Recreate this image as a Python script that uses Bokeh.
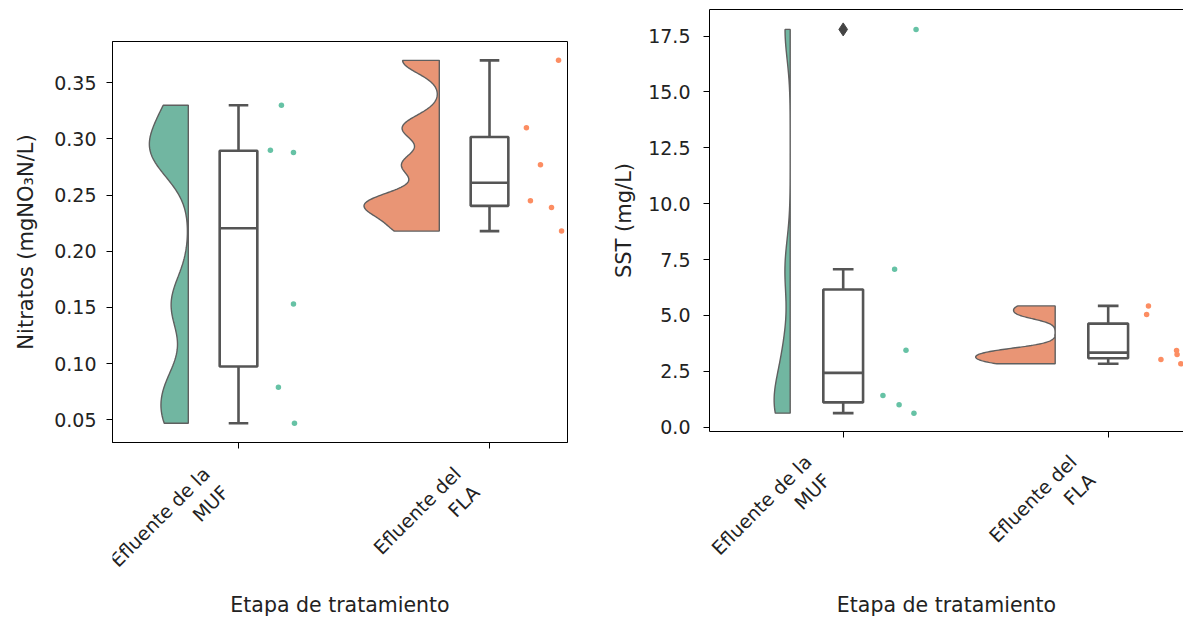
import numpy as np
from bokeh.plotting import figure
from bokeh.layouts import row, column
from bokeh.models import FixedTicker, LinearAxis, Range1d, NumeralTickFormatter, Spacer
from bokeh.core.properties import value
from bokeh.embed import file_html
from bokeh.resources import INLINE

# ---------------- data ----------------
categories = ["Efluente de la\nMUF", "Efluente del\nFLA"]
x_title = "Etapa de tratamiento"

nitratos_muf = [0.330, 0.290, 0.288, 0.153, 0.079, 0.047]
nitratos_fla = [0.370, 0.310, 0.277, 0.245, 0.239, 0.218]
nitratos_jitter_muf = [0.171, 0.127, 0.219, 0.219, 0.159, 0.223]
nitratos_jitter_fla = [0.275, 0.147, 0.203, 0.163, 0.247, 0.287]

sst_muf = [17.8, 7.07, 3.45, 1.42, 1.01, 0.63]
sst_fla = [5.43, 5.04, 3.03, 3.43, 3.25, 2.84]
sst_jitter_muf = [0.275, 0.194, 0.237, 0.150, 0.211, 0.267]
sst_jitter_fla = [0.152, 0.145, 0.199, 0.258, 0.260, 0.274]

nitratos_ticks = [0.05, 0.10, 0.15, 0.20, 0.25, 0.30, 0.35]
sst_ticks = [0.0, 2.5, 5.0, 7.5, 10.0, 12.5, 15.0, 17.5]

rain_colors = ["#66c2a5", "#fc8d62"]
violin_colors = ["#71b6a1", "#e99575"]

FONT = "DejaVu Sans"
LINE = "#555555"
TXT = "#222222"


def kde(vals, n=200):
    v = np.asarray(vals, dtype=float)
    bw = 0.2 * v.std(ddof=1)
    grid = np.linspace(v.min(), v.max(), n)
    d = np.exp(-0.5 * ((grid[:, None] - v[None, :]) / bw) ** 2).sum(1)
    d /= len(v) * bw * np.sqrt(2 * np.pi)
    return grid, d


def raincloud(p, groups, jitters):
    kdes = [kde(g) for g in groups]
    gmax = max(d.max() for _, d in kdes)
    half_w = 0.30
    for i, (vals, jit) in enumerate(zip(groups, jitters)):
        grid, d = kdes[i]
        edge = i - 0.2
        xs = list(edge - d / gmax * half_w) + [edge, edge]
        ys = list(grid) + [grid[-1], grid[0]]
        p.patch(xs, ys, fill_color=violin_colors[i], line_color="#5f5f5f",
                line_width=1.4)
        v = np.asarray(vals, dtype=float)
        q1, med, q3 = np.percentile(v, [25, 50, 75])
        iqr = q3 - q1
        lo = v[v >= q1 - 1.5 * iqr].min()
        hi = v[v <= q3 + 1.5 * iqr].max()
        bw = 0.075
        cw = 0.039
        p.segment(x0=[i, i], y0=[q3, q1], x1=[i, i], y1=[hi, lo],
                  line_color=LINE, line_width=2.6)
        p.segment(x0=[i - cw, i - cw], y0=[hi, lo], x1=[i + cw, i + cw],
                  y1=[hi, lo], line_color=LINE, line_width=2.6)
        p.quad(left=[i - bw], right=[i + bw], bottom=[q1], top=[q3],
               fill_color="white", line_color=LINE, line_width=2.6)
        p.segment(x0=[i - bw], y0=[med], x1=[i + bw], y1=[med],
                  line_color=LINE, line_width=2.6)
        out = v[(v < q1 - 1.5 * iqr) | (v > q3 + 1.5 * iqr)]
        if len(out):
            p.scatter(x=[i] * len(out), y=list(out), marker="diamond",
                      size=13, fill_color="#444444", line_color="#444444")
        p.scatter(x=list(i + np.asarray(jit)), y=list(v), size=5.5,
                  fill_color=rain_colors[i], line_color=None)


def style_main(p, ticks, fmt, ylabel, label_standoff, title_standoff):
    p.xgrid.visible = False
    p.ygrid.visible = False
    ya = p.left[0]
    ya.ticker = FixedTicker(ticks=ticks)
    ya.formatter = NumeralTickFormatter(format=fmt)
    ya.minor_tick_line_color = None
    ya.major_tick_in = 0
    ya.major_tick_out = 6
    ya.major_tick_line_color = "black"
    ya.axis_line_color = "black"
    ya.major_label_text_font = FONT
    ya.major_label_text_font_size = "19px"
    ya.major_label_text_color = TXT
    ya.major_label_standoff = label_standoff
    ya.axis_label = ylabel
    ya.axis_label_text_font = FONT
    ya.axis_label_text_font_size = "21px"
    ya.axis_label_text_font_style = "normal"
    ya.axis_label_text_color = TXT
    ya.axis_label_standoff = title_standoff
    # bottom axis: line plus category tick marks (drawn as minor ticks, no labels)
    bx = p.below[0]
    bx.ticker = FixedTicker(ticks=[], minor_ticks=[0, 1])
    bx.major_tick_out = 0
    bx.major_tick_in = 0
    bx.major_label_standoff = 0
    bx.minor_tick_in = 0
    bx.minor_tick_out = 6
    bx.minor_tick_line_color = "black"
    bx.axis_line_color = "black"


def label_panel(main, height, border_left, border_right, label_y, title_y, dx):
    """Figure below a panel that carries the category labels and the x title
    (y measured in pixels downwards from this figure's top)."""
    q = figure(width=main.width, height=height, output_backend="svg",
               toolbar_location=None, x_range=main.x_range,
               y_range=Range1d(-height, 0), min_border_left=border_left,
               min_border_right=border_right, min_border_top=0,
               min_border_bottom=0)
    q.axis.visible = False
    q.grid.visible = False
    q.outline_line_color = None
    q.text(x=[0, 1], y=[-label_y, -label_y], text=categories,
           angle=np.pi / 4, text_align="right", text_baseline="top",
           x_offset=dx, text_font=value(FONT), text_font_size=value("19px"),
           text_color=TXT, text_line_height=1.2)
    xr = main.x_range
    q.text(x=[(xr.start + xr.end) / 2], y=[-title_y], text=[x_title],
           text_align="center", text_baseline="middle", text_font=value(FONT),
           text_font_size=value("20.5px"), text_color=TXT)
    return q


# ---------------- left panel ----------------
# frame: x 112..567, y 41..442
p1 = figure(width=600, height=420, output_backend="svg", toolbar_location=None,
            x_range=Range1d(-0.502, 1.3107), y_range=Range1d(0.0298, 0.3868),
            min_border_left=112, min_border_right=33, min_border_top=9,
            min_border_bottom=10)
p1.outline_line_color = "black"
p1.outline_line_width = 1
raincloud(p1, [nitratos_muf, nitratos_fla], [nitratos_jitter_muf, nitratos_jitter_fla])
style_main(p1, nitratos_ticks, "0.00", "Nitratos (mgNO₃N/L)", 10, 13)
p1b = label_panel(p1, 617 - 32 - 420, 112, 33, 10, 152, -40)

# ---------------- right panel ----------------
# frame: x 709..1183(+), y 9..431
p2 = figure(width=583, height=441, output_backend="svg", toolbar_location=None,
            x_range=Range1d(-0.5045, 1.2842), y_range=Range1d(-0.19, 18.69),
            min_border_left=109, min_border_right=0, min_border_top=9,
            min_border_bottom=10)
p2.outline_line_color = None
style_main(p2, sst_ticks, "0.0", "SST (mg/L)", 13, 9)
top_ax = LinearAxis(ticker=FixedTicker(ticks=[]), major_tick_out=0, major_tick_in=0,
                    major_label_standoff=0, minor_tick_line_color=None,
                    axis_line_color="black")
p2.add_layout(top_ax, "above")
raincloud(p2, [sst_muf, sst_fla], [sst_jitter_muf, sst_jitter_fla])
p2b = label_panel(p2, 617 - 441, 109, 0, 9, 163, -43)

layout = row(column(Spacer(height=32, width=600), p1, p1b), column(p2, p2b))
open("out.html", "w").write(file_html(layout, INLINE))
